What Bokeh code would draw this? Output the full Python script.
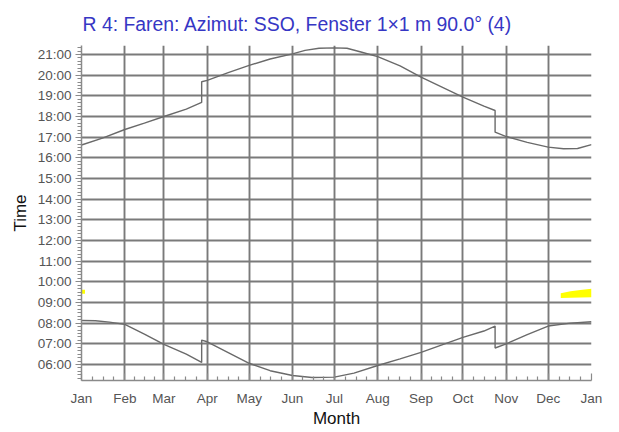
from bokeh.plotting import figure
from bokeh.models import Range1d, FixedTicker
from bokeh.embed import file_html
from bokeh.resources import INLINE

# ---- data ----
month_labels = ["Jan", "Feb", "Mar", "Apr", "May", "Jun", "Jul", "Aug",
                "Sep", "Oct", "Nov", "Dec", "Jan"]
month_starts = [0, 31, 59, 90, 120, 151, 181, 212, 243, 273, 304, 334, 365]
hour_ticks = list(range(6, 22))
hour_labels = ["%02d:00" % h for h in hour_ticks]

# end of sun on window (hours), by day of year
end_days = [0, 15, 31, 45, 59, 75, 86, 86, 90, 105, 120, 135, 151, 160, 170,
            181, 190, 200, 212, 228, 243, 258, 273, 288, 296, 296, 304, 319,
            334, 345, 355, 365]
end_hours = [16.62, 16.95, 17.37, 17.68, 18.0, 18.36, 18.68, 19.68, 19.75,
             20.12, 20.47, 20.78, 21.03, 21.2, 21.3, 21.32, 21.3, 21.12,
             20.9, 20.45, 19.9, 19.42, 18.94, 18.5, 18.29, 17.24, 17.03,
             16.75, 16.52, 16.44, 16.45, 16.64]

# start of sun on window (hours), by day of year
start_days = [0, 10, 20, 31, 45, 59, 75, 86, 86, 90, 105, 120, 135, 151, 165,
              181, 195, 212, 228, 243, 258, 273, 288, 296, 296, 304, 319, 334,
              350, 365]
start_hours = [8.13, 8.12, 8.05, 7.94, 7.47, 6.97, 6.5, 6.1, 7.18, 7.1, 6.58,
               6.06, 5.7, 5.47, 5.37, 5.39, 5.58, 5.95, 6.27, 6.59, 6.95,
               7.31, 7.62, 7.86, 6.8, 7.0, 7.45, 7.86, 8.0, 8.07]

# yellow marks (hours)
yl_days = [0, 2.5]
yl_lo = [9.42, 9.42]
yl_hi = [9.62, 9.62]
yr_days = [343, 350, 357, 365]
yr_lo = [9.22, 9.23, 9.24, 9.26]
yr_hi = [9.45, 9.54, 9.61, 9.66]

title_text = "R 4: Faren: Azimut: SSO, Fenster 1\u00d71 m 90.0\u00b0 (4)"

# ---- figure ----
p = figure(width=611, height=424, output_backend="svg", toolbar_location=None,
           x_range=Range1d(0, 365), y_range=Range1d(5.226, 21.435),
           min_border_left=81, min_border_right=20, min_border_top=45,
           min_border_bottom=44, title=title_text)
p.frame_width = 510
p.frame_height = 335
p.outline_line_color = None
p.background_fill_color = "white"
p.border_fill_color = "white"

p.title.text_font = "Liberation Sans"
p.title.text_font_size = "19.4px"
p.title.text_font_style = "normal"
p.title.text_color = "#3636c4"
p.title.align = "left"
p.title.offset = 1
p.title.standoff = 18
p.title.vertical_align = "top"
p.title.text_line_height = 0.7

# minor ticks
x_minor = []
for i in range(12):
    a, b = month_starts[i], month_starts[i + 1]
    for k in (1, 2, 3):
        x_minor.append(a + (b - a) * k / 4.0)
y_minor = [5.0 + i / 6.0 for i in range(0, 6 * 17) if (5.0 + i / 6.0) <= 21.5]

p.xaxis.ticker = FixedTicker(ticks=month_starts, minor_ticks=x_minor)
p.yaxis.ticker = FixedTicker(ticks=hour_ticks, minor_ticks=y_minor)
p.xaxis.major_label_overrides = {d: l for d, l in zip(month_starts, month_labels)}
p.yaxis.major_label_overrides = {h: l for h, l in zip(hour_ticks, hour_labels)}

for ax in (p.xaxis, p.yaxis):
    ax.axis_line_color = "#8a8a8a"
    ax.axis_line_width = 1.5
    ax.major_tick_line_color = "#8a8a8a"
    ax.minor_tick_line_color = "#8a8a8a"
    ax.major_tick_line_width = 1.2
    ax.minor_tick_line_width = 1.2
    ax.major_label_text_font = "Liberation Sans"
    ax.major_label_text_color = "#555555"
    ax.axis_label_text_font = "Liberation Sans"
    ax.axis_label_text_font_style = "normal"
    ax.axis_label_text_color = "#111111"
    ax.axis_label_text_font_size = "17px"

p.xaxis.major_tick_in = 7
p.xaxis.major_tick_out = 0
p.xaxis.minor_tick_in = 4
p.xaxis.minor_tick_out = 0
p.xaxis.major_label_standoff = 10
p.xaxis.major_label_text_font_size = "13.5px"
p.xaxis.axis_label = "Month"
p.xaxis.axis_label_standoff = 0

p.yaxis.major_tick_in = 0
p.yaxis.major_tick_out = 6
p.yaxis.minor_tick_in = 0
p.yaxis.minor_tick_out = 4
p.yaxis.major_label_standoff = 4
p.yaxis.major_label_text_font_size = "13.5px"
p.yaxis.axis_label = "Time"
p.yaxis.axis_label_standoff = 5

p.xgrid.grid_line_color = "#7a7a7a"
p.xgrid.grid_line_width = 1.9
p.ygrid.grid_line_color = "#7a7a7a"
p.ygrid.grid_line_width = 1.9

# yellow marks
p.varea(x=yl_days, y1=yl_lo, y2=yl_hi, fill_color="#ffff00")
p.varea(x=yr_days, y1=yr_lo, y2=yr_hi, fill_color="#ffff00")

# curves
p.line(end_days, end_hours, line_color="#6a6a6a", line_width=1.4)
p.line(start_days, start_hours, line_color="#6a6a6a", line_width=1.4)

open("out.html", "w").write(file_html(p, INLINE))
